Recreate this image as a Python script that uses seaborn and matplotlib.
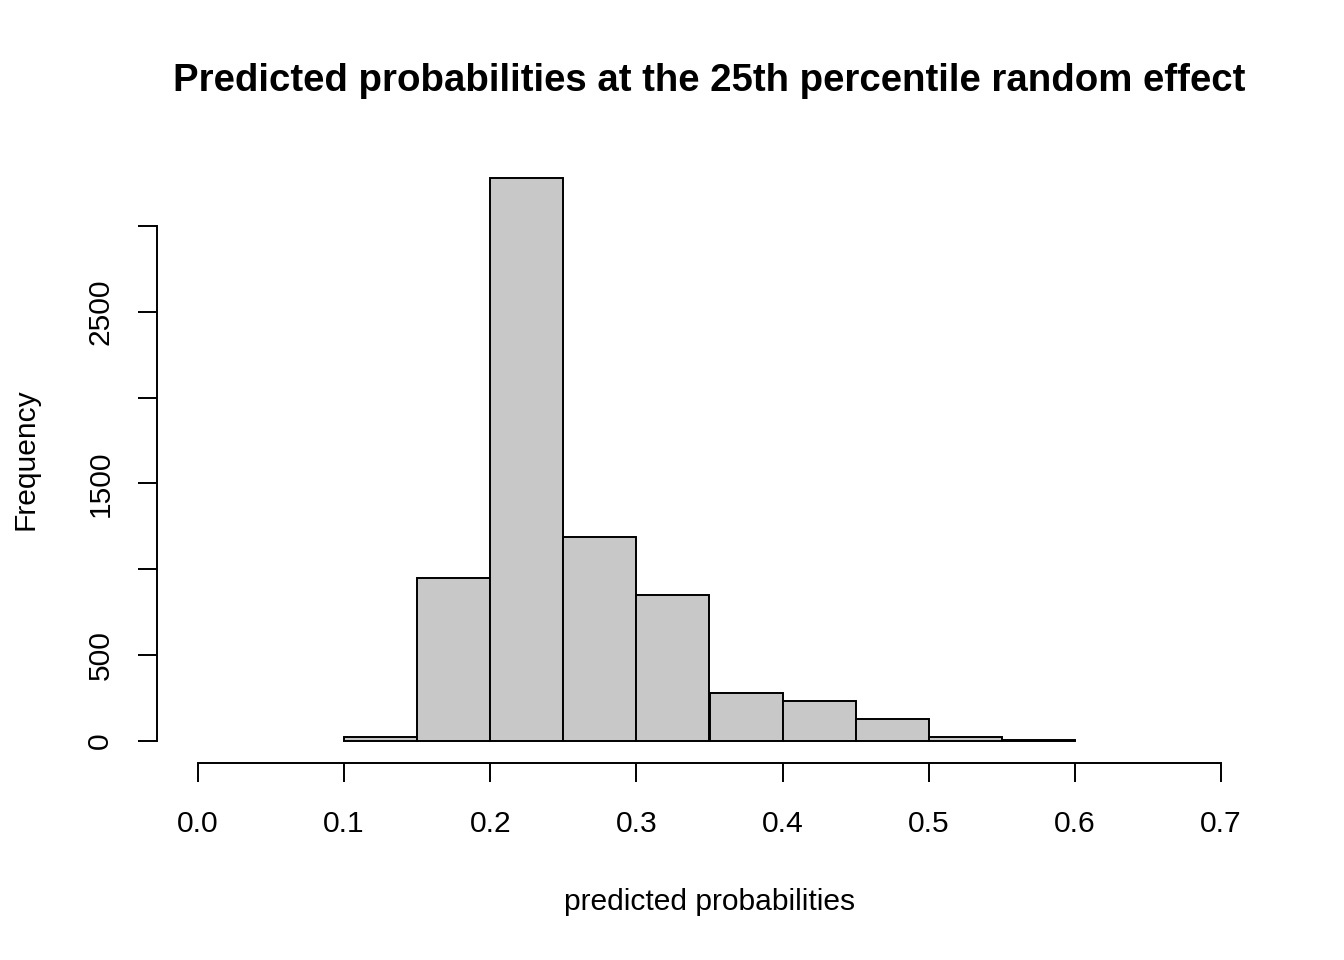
import numpy as np
import seaborn as sns
import matplotlib
matplotlib.use("Agg")
import matplotlib.pyplot as plt

# histogram bins
bin_edges = [0.10, 0.15, 0.20, 0.25, 0.30, 0.35, 0.40, 0.45, 0.50, 0.55, 0.60]
counts = [18, 951, 3280, 1185, 852, 280, 228, 124, 19, 1]
x_ticks = [0.0, 0.1, 0.2, 0.3, 0.4, 0.5, 0.6, 0.7]
y_ticks = [0, 500, 1000, 1500, 2000, 2500, 3000]
y_ticklabels = ["0", "500", "", "1500", "", "2500", ""]

sns.set_style("white")
plt.rcParams["font.family"] = ["Liberation Sans", "DejaVu Sans"]
plt.rcParams["text.color"] = "black"
plt.rcParams["axes.labelcolor"] = "black"
plt.rcParams["xtick.color"] = "black"
plt.rcParams["ytick.color"] = "black"

mids = [(a + b) / 2 for a, b in zip(bin_edges[:-1], bin_edges[1:])]

fig = plt.figure(figsize=(13.44, 9.6), dpi=100)
ax = fig.add_axes([157 / 1344, 1 - 763 / 960, (1262 - 157) / 1344, (763 - 156) / 960])

sns.histplot(x=mids, weights=counts, bins=bin_edges, color="#C8C8C8",
             edgecolor="black", linewidth=1.4, alpha=1, ax=ax)

# R-style padding of 4%
ax.set_xlim(0 - 0.028, 0.7 + 0.028)
ax.set_ylim(-0.04 * 3280, 3280 * 1.04)

for s in ["top", "right"]:
    ax.spines[s].set_visible(False)
ax.spines["left"].set_bounds(0, 3000)
ax.spines["bottom"].set_bounds(0, 0.7)
for s in ["left", "bottom"]:
    ax.spines[s].set_color("black")
    ax.spines[s].set_linewidth(1.4)

ax.set_xticks(x_ticks)
ax.set_xticklabels([f"{t:.1f}" for t in x_ticks])
ax.set_yticks(y_ticks)
ax.set_yticklabels(y_ticklabels, rotation=90, va="center")
ax.tick_params(axis="both", direction="out", length=13.7, width=1.4,
               color="black", labelcolor="black", labelsize=21.6, pad=17)
ax.tick_params(axis="x", pad=20)
ax.tick_params(axis="x", bottom=True)
ax.tick_params(axis="y", left=True)

ax.set_xlabel("predicted probabilities", fontsize=21.6, labelpad=36)
ax.set_ylabel("Frequency", fontsize=21.6, labelpad=34)
ax.set_title("Predicted probabilities at the 25th percentile random effect",
             fontsize=27.6, fontweight="bold", pad=47, color="black")

fig.savefig("out.png", dpi=100)
